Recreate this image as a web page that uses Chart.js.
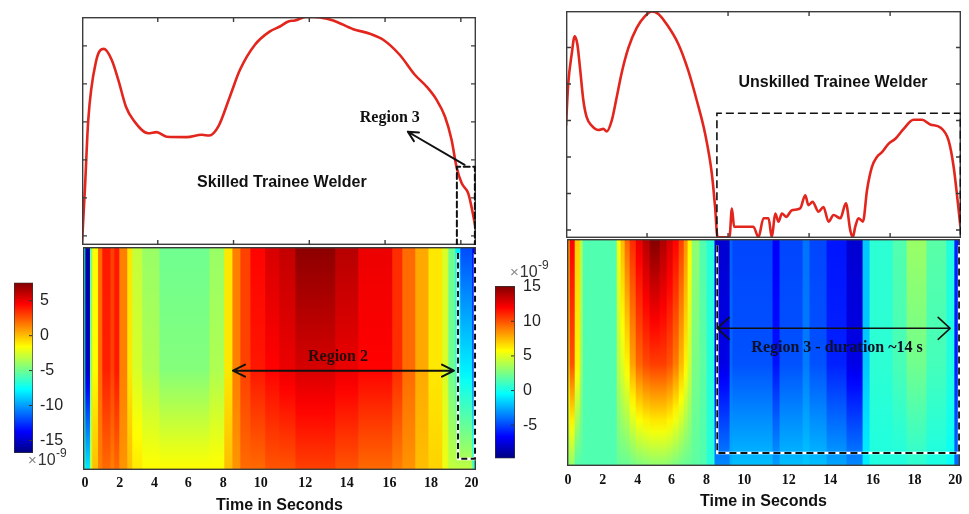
<!DOCTYPE html>
<html>
<head>
<meta charset="utf-8">
<script src="https://cdn.jsdelivr.net/npm/chart.js@4.4.1/dist/chart.umd.min.js"></script>
<style>
  html, body { margin: 0; padding: 0; background: #fff; overflow: hidden; width: 969px; height: 514px; }
  .pane { position: absolute; }
</style>
</head>
<body>
<div class="pane" style="left:82px;top:17px;width:394px;height:228px"><canvas id="skilledLine"></canvas></div>
<div class="pane" style="left:63px;top:247px;width:422px;height:267px"><canvas id="skilledMap"></canvas></div>
<div class="pane" style="left:14px;top:266px;width:60px;height:210px"><canvas id="skilledBar"></canvas></div>
<div class="pane" style="left:566px;top:11px;width:395px;height:227px"><canvas id="unskilledLine"></canvas></div>
<div class="pane" style="left:547px;top:239px;width:422px;height:275px"><canvas id="unskilledMap"></canvas></div>
<div class="pane" style="left:495px;top:260px;width:60px;height:216px"><canvas id="unskilledBar"></canvas></div>
<script>
// ---- signal envelopes (arbitrary units) ----
const skilledTime = [0, 0.16, 0.33, 0.74, 1.16, 1.57, 1.92, 2.32, 2.71, 3.5, 3.94, 4.47, 5.52, 6.32, 6.72, 7.2, 7.81, 8.34, 9.13, 9.92,
  10.45, 10.89, 11.24, 11.86, 12.56, 13.26, 14.32, 15.2, 15.9, 16.78, 17.57, 18.19, 18.72, 19.16, 19.51, 19.77, 20.04, 20.39, 20.56, 20.8];
const skilledSignal = [-0.19, 1.3, 3.05, 4.59, 4.92, 4.63, 4.1, 3.4, 3.05, 2.7, 2.73, 2.61, 2.6, 2.66, 2.64, 2.88, 3.67, 4.37, 5.03, 5.38,
  5.51, 5.64, 5.67, 5.77, 5.75, 5.67, 5.44, 5.32, 5.16, 4.76, 4.24, 3.93, 3.58, 3.14, 2.53, 1.82, 1.39, 1.12, 0.77, 0.16];

const unskilledTime = [0, 0.11, 0.28, 0.43, 0.56, 0.69, 0.86, 1.02, 1.27, 1.6, 1.84, 2.01, 2.26, 2.5, 2.75, 3.08, 3.49, 3.9, 4.23, 4.56,
  4.98, 5.55, 6.04, 6.46, 6.87, 7.2, 7.36, 7.48, 7.94, 8.07, 8.19, 8.3, 8.43, 9.25, 9.5, 9.75, 10.0, 10.16, 10.33, 10.49,
  10.66, 10.87, 11.15, 11.56, 11.81, 11.97, 12.17, 12.47, 12.71, 12.96, 13.21, 13.54, 13.82, 14.03, 14.16, 14.28, 14.44, 14.66, 14.86, 15.1,
  15.35, 15.6, 15.92, 16.26, 16.67, 17.16, 17.58, 17.98, 18.48, 18.89, 19.14, 19.33, 19.47];
const unskilledSignal = [2.86, 4.0, 4.81, 5.31, 5.09, 4.45, 3.54, 3.09, 2.86, 2.74, 2.77, 2.7, 3.0, 3.63, 4.31, 4.99, 5.54, 5.86, 5.99, 5.92,
  5.63, 5.09, 4.36, 3.54, 2.63, 1.54, 0.63, -0.2, -0.2, -0.2, 0.59, 0.09, 0.09, 0.09, -0.2, 0.32, 0.32, -0.2, 0.45, 0.23,
  0.45, 0.36, 0.54, 0.59, 0.95, 0.68, 0.77, 0.5, 0.63, 0.23, 0.41, 0.32, 0.73, 0, -0.2, 0.09, 0.32, 0.23, 1.09, 1.72,
  2.0, 2.13, 2.36, 2.5, 2.77, 3.02, 3.02, 2.89, 2.81, 2.45, 1.72, 0.82, 0.09];

const skilledLineTicksX = [4, 8, 12, 16, 20];
const unskilledLineTicksX = [4, 8, 12, 16];
const lineTicksY = [0, 1, 2, 3, 4, 5];

// ---- scalogram columns: edges in seconds, coefficient (x1e-9) at top, mid depth and bottom ----
const skilledEdges = [-0.10, 0.05, 0.29, 0.41, 0.71, 0.93, 1.35, 1.55, 1.81, 2.22, 2.48, 3.00, 3.88, 6.47, 7.24, 7.66, 8.07,
  8.59, 9.36, 10.09, 10.92, 12.98, 14.17, 15.93, 16.45, 17.12, 17.80, 18.52, 18.83, 19.19, 19.45, 20.07, 20.23];
const skilledTop = [-7, -16, -5, -1.5, 2, 4, 3, 4, 1.5, -1, -3, -4, -5, -4, -1, 1.5, 3, 4.5, 5.5, 6, 7.3, 6.3, 5, 3.5, 2, 0.5, -1, -2.5, -5, -8, -12, -14];
const skilledMid = [-7, -15, -4, -1.5, 2, 3.8, 3, 4, 1.5, -1, -2.5, -3.5, -4.5, -3.5, -1, 1.5, 3, 4, 4.5, 5, 5.5, 5, 4.5, 3.5, 2, 0.5, -1, -2.5, -5, -7, -8, -12];
const skilledBottom = [-6, -8, -3, 0, 1.5, 2, 1.5, 2, 1, 0, -1, -1.5, -1.5, -1.5, 0, 1, 2, 2, 2.5, 2.5, 3, 2.5, 2, 1.5, 1, 0, -0.5, -2, -3, -3, -3, -6];

const unskilledEdges = [-0.05, 0.12, 0.38, 0.64, 0.79, 2.55, 2.75, 2.96, 3.22, 3.53, 3.89, 4.25, 4.77, 5.13, 5.44, 5.75, 6.01, 6.21,
  6.42, 6.83, 7.19, 7.60, 8.38, 8.53, 10.60, 10.96, 12.15, 12.51, 13.39, 14.42, 15.25, 15.61, 16.80, 17.52, 18.55, 19.58, 19.99, 20.25];
const unskilledTop = [8, 12, 7, 4, 1.5, 5.5, 7.5, 9.5, 11, 12.5, 13.8, 15, 14, 13, 12, 10.5, 8.5, 6, 3, 1.5,
  0.5, -7.8, -4.3, -5.0, -6.8, -5.0, -3.9, -5.0, -6.2, -7.8, -1.8, 0.6, 1.5, 3.3, 1.7, 0.3, -6];
const unskilledMid = [7, 10, 6, 3.5, 1.5, 4, 5, 6, 8, 9.5, 10.2, 10.5, 10.5, 10, 9, 7.5, 6, 4.5, 2.5, 1.8,
  0.5, -7.3, -4.2, -4.7, -6.3, -4.7, -3.7, -4.7, -5.9, -7.3, -1.8, 0.6, 1.3, 2.3, 1.2, 0.3, -6];
const unskilledBottom = [3, 3, 1.5, 1.5, 1.5, 2, 2, 2, 2.3, 2.6, 2.8, 3, 3, 2.8, 2.5, 2.2, 2, 2, 1.8, 1.5,
  0.5, -3.3, -2.3, -2.0, -2.8, -2.0, -1.8, -2.0, -2.6, -3.3, -0.8, 0.3, 0.3, 0.6, 0.2, -0.3, -4];

const skilledRange = [-16.8, 7.6];
const unskilledRange = [-9.8, 15.1];
const skilledBarTicks = [5, 0, -5, -10, -15];
const unskilledBarTicks = [15, 10, 5, 0, -5];

const timeTickAt = [0, 1.8, 3.6, 5.35, 7.15, 9.1, 11.4, 13.55, 15.75, 17.9, 20];
const timeTickText = ['0', '2', '4', '6', '8', '10', '12', '14', '16', '18', '20'];

const MID_DEPTH = 0.55;

Chart.defaults.font.family = "'Liberation Sans', Arial, sans-serif";
Chart.defaults.animation = false;
Chart.defaults.plugins.legend.display = false;
Chart.defaults.plugins.tooltip.enabled = false;

function jet(f) {
  f = Math.min(1, Math.max(0, f));
  const ch = (a, b) => Math.round(255 * Math.min(1, Math.max(0, Math.min(4 * f + a, -4 * f + b))));
  return `rgb(${ch(-1.5, 4.5)},${ch(-0.5, 3.5)},${ch(0.5, 2.5)})`;
}

function framePlugin(xTicks, yTicks) {
  return {
    id: 'frame',
    afterDatasetsDraw(chart) {
      const { ctx, chartArea: a, scales } = chart;
      ctx.save();
      ctx.strokeStyle = '#3c3c3c';
      ctx.lineWidth = 1.4;
      ctx.strokeRect(a.left + 0.7, a.top + 0.7, a.width - 1.4, a.height - 1.4);
      ctx.beginPath();
      xTicks.forEach(t => {
        const x = scales.x.getPixelForValue(t);
        ctx.moveTo(x, a.top); ctx.lineTo(x, a.top + 5);
        ctx.moveTo(x, a.bottom); ctx.lineTo(x, a.bottom - 5);
      });
      yTicks.forEach(v => {
        const y = scales.y.getPixelForValue(v);
        ctx.moveTo(a.left, y); ctx.lineTo(a.left + 5, y);
        ctx.moveTo(a.right, y); ctx.lineTo(a.right - 5, y);
      });
      ctx.stroke();
      ctx.restore();
    }
  };
}

// text, dashed outlines and arrows placed in data coordinates
function notesPlugin(items, yId) {
  return {
    id: 'notes',
    afterDraw(chart) {
      const ctx = chart.ctx;
      const sx = chart.scales.x, sy = chart.scales[yId];
      const px = p => [sx.getPixelForValue(p[0]), sy.getPixelForValue(p[1])];
      ctx.save();
      items.forEach(it => {
        if (it.kind === 'text') {
          const [x, y] = px(it.at);
          ctx.font = it.font;
          ctx.fillStyle = it.color || '#111';
          ctx.textAlign = 'center';
          ctx.textBaseline = 'middle';
          ctx.fillText(it.text, x, y);
        } else if (it.kind === 'dash') {
          const pts = it.path.map(px);
          const trace = () => {
            ctx.beginPath();
            pts.forEach(([x, y], i) => (i ? ctx.lineTo(x, y) : ctx.moveTo(x, y)));
            ctx.stroke();
          };
          if (it.halo) {
            ctx.setLineDash([]);
            ctx.strokeStyle = '#fff';
            ctx.lineWidth = it.width + 0.6;
            trace();
          }
          ctx.setLineDash(it.dash);
          ctx.strokeStyle = '#111';
          ctx.lineWidth = it.width;
          trace();
          ctx.setLineDash([]);
        } else if (it.kind === 'arrow') {
          const [x1, y1] = px(it.from), [x2, y2] = px(it.to);
          ctx.strokeStyle = '#111';
          ctx.lineWidth = it.width;
          ctx.lineCap = 'round';
          ctx.lineJoin = 'round';
          const head = (tx, ty, fx, fy) => {
            const ang = Math.atan2(ty - fy, tx - fx);
            const c = Math.cos(ang), s = Math.sin(ang);
            ctx.moveTo(tx - it.len * c - it.half * s, ty - it.len * s + it.half * c);
            ctx.lineTo(tx, ty);
            ctx.lineTo(tx - it.len * c + it.half * s, ty - it.len * s - it.half * c);
          };
          ctx.beginPath();
          ctx.moveTo(x1, y1);
          ctx.lineTo(x2, y2);
          head(x2, y2, x1, y1);
          if (it.both) head(x1, y1, x2, y2);
          ctx.stroke();
        }
      });
      ctx.restore();
    }
  };
}

function lineChart(id, time, signal, xMax, yRange, xTicks, notes) {
  return new Chart(document.getElementById(id), {
    type: 'line',
    data: {
      datasets: [{
        data: time.map((t, i) => ({ x: t, y: signal[i] })),
        borderColor: '#e2251d',
        borderWidth: 2.6,
        pointRadius: 0,
        cubicInterpolationMode: 'monotone',
        fill: false
      }]
    },
    options: {
      responsive: true,
      maintainAspectRatio: false,
      layout: { padding: 0 },
      scales: {
        x: { type: 'linear', display: false, min: 0, max: xMax },
        y: { type: 'linear', display: false, min: yRange[0], max: yRange[1] }
      }
    },
    plugins: [framePlugin(xTicks, lineTicksY), notesPlugin(notes, 'y')]
  });
}

function columnFill(ctx, top, mid, bottom, range) {
  const area = ctx.chart.chartArea;
  if (!area || ctx.type !== 'data') return 'rgba(0,0,0,0)';
  const i = ctx.dataIndex;
  const g = ctx.chart.ctx.createLinearGradient(0, area.top, 0, area.bottom);
  for (let k = 0; k <= 20; k++) {
    const d = k / 20;
    const v = d < MID_DEPTH
      ? top[i] + (mid[i] - top[i]) * d / MID_DEPTH
      : mid[i] + (bottom[i] - mid[i]) * (d - MID_DEPTH) / (1 - MID_DEPTH);
    g.addColorStop(d, jet((v - range[0]) / (range[1] - range[0])));
  }
  return g;
}

function scalogramChart(id, edges, top, mid, bottom, range, xRange, axisH, tickPad, titlePad, notes) {
  const cols = top.map((v, i) => ({ x: [edges[i], edges[i + 1]], y: 'scalogram' }));
  return new Chart(document.getElementById(id), {
    type: 'bar',
    data: {
      labels: ['scalogram'],
      datasets: [{
        data: cols,
        backgroundColor: ctx => columnFill(ctx, top, mid, bottom, range),
        borderWidth: 0,
        barPercentage: 1,
        categoryPercentage: 1,
        inflateAmount: 0.6
      }]
    },
    options: {
      indexAxis: 'y',
      responsive: true,
      maintainAspectRatio: false,
      layout: { padding: { left: 20, right: 9, top: 0, bottom: 0 } },
      scales: {
        x: {
          type: 'linear',
          min: xRange[0],
          max: xRange[1],
          grid: { display: false, drawTicks: false },
          border: { display: false },
          afterBuildTicks: s => { s.ticks = timeTickAt.map(v => ({ value: v })); },
          afterFit: s => { s.height = axisH; },
          ticks: {
            autoSkip: false,
            maxRotation: 0,
            padding: tickPad,
            color: '#111',
            font: { family: "'Liberation Serif', 'Times New Roman', serif", weight: 'bold', size: 14 },
            callback: (v, i) => timeTickText[i]
          },
          title: {
            display: true,
            text: 'Time in Seconds',
            color: '#111',
            font: { weight: 'bold', size: 16, lineHeight: 1 },
            padding: { top: 0, bottom: titlePad }
          }
        },
        y: { type: 'category', display: false, offset: true },
        depth: { type: 'linear', axis: 'y', display: false, min: 0, max: 1, reverse: true }
      }
    },
    plugins: [framePlugin([], []), notesPlugin(notes, 'depth')]
  });
}

function exponentPlugin(edge, dx, dy) {
  return {
    id: 'exponent',
    afterDraw(chart) {
      const { ctx, chartArea: a, scales } = chart;
      ctx.save();
      // inward tick marks on the bar's right edge
      ctx.strokeStyle = '#333';
      ctx.lineWidth = 1;
      ctx.beginPath();
      scales.y.ticks.forEach(t => {
        const y = scales.y.getPixelForValue(t.value);
        ctx.moveTo(a.right - 1, y); ctx.lineTo(a.right - 4, y);
      });
      ctx.stroke();
      let x = a.left + dx;
      const y = (edge === 'bottom' ? a.bottom : a.top) + dy;
      ctx.textAlign = 'left';
      ctx.textBaseline = 'alphabetic';
      ctx.font = "15px 'Liberation Sans'";
      ctx.fillStyle = '#8a8a8a';
      ctx.fillText('×', x, y);
      x += ctx.measureText('×').width + 1;
      ctx.fillStyle = '#333';
      ctx.font = "16px 'Liberation Sans'";
      ctx.fillText('10', x, y);
      x += ctx.measureText('10').width + 0.5;
      ctx.font = "12px 'Liberation Sans'";
      ctx.fillText('-9', x, y - 8);
      ctx.restore();
    }
  };
}

function colorbarChart(id, range, ticks, pad, axisW, labelPad, expo) {
  return new Chart(document.getElementById(id), {
    type: 'bar',
    data: {
      labels: ['scale'],
      datasets: [{
        data: [[range[0], range[1]]],
        backgroundColor: ctx => {
          const a = ctx.chart.chartArea;
          if (!a) return 'rgba(0,0,0,0)';
          const g = ctx.chart.ctx.createLinearGradient(0, a.bottom, 0, a.top);
          for (let k = 0; k <= 40; k++) g.addColorStop(k / 40, jet(k / 40));
          return g;
        },
        borderColor: '#333',
        borderWidth: 1,
        borderSkipped: false,
        barPercentage: 1,
        categoryPercentage: 1
      }]
    },
    options: {
      responsive: true,
      maintainAspectRatio: false,
      layout: { padding: { left: 0, right: 0, top: pad[0], bottom: pad[1] } },
      scales: {
        x: { display: false },
        y: {
          position: 'right',
          min: range[0],
          max: range[1],
          grid: { display: false, drawTicks: false },
          border: { display: false },
          afterBuildTicks: s => { s.ticks = ticks.map(v => ({ value: v })); },
          afterFit: s => { s.width = axisW; },
          ticks: { color: '#222', padding: labelPad, font: { size: 16 }, callback: v => String(v) }
        }
      }
    },
    plugins: [exponentPlugin(expo[0], expo[1], expo[2])]
  });
}

const serifBold = "bold 16px 'Liberation Serif', 'Times New Roman', serif";
const sansBold = "bold 16px 'Liberation Sans', Arial, sans-serif";

lineChart('skilledLine', skilledTime, skilledSignal, 20.8, [-0.24, 5.76], skilledLineTicksX, [
  { kind: 'text', at: [10.55, 1.39], text: 'Skilled Trainee Welder', font: sansBold },
  { kind: 'text', at: [16.25, 3.1], text: 'Region 3', font: serifBold },
  { kind: 'arrow', from: [20.2, 1.87], to: [17.2, 2.74], width: 2, len: 10, half: 5 },
  { kind: 'dash', path: [[19.79, -0.5], [19.79, 1.82], [20.74, 1.82], [20.74, -0.5]], dash: [6, 3.5], width: 2 }
]);

scalogramChart('skilledMap', skilledEdges, skilledTop, skilledMid, skilledBottom, skilledRange, [-0.10, 20.23], 44, 5, 0, [
  { kind: 'dash', path: [[19.3, -0.02], [19.3, 0.995], [20.18, 0.995], [20.18, -0.02]], dash: [6, 3.5], width: 2, halo: true },
  { kind: 'text', at: [13.09, 0.493], text: 'Region 2', font: serifBold, color: '#2a0b0b' },
  { kind: 'arrow', from: [7.66, 0.56], to: [19.09, 0.56], both: true, width: 2, len: 12, half: 6 }
]);

colorbarChart('skilledBar', skilledRange, skilledBarTicks, [10, 23], 41, 7, ['bottom', 14, 12]);

lineChart('unskilledLine', unskilledTime, unskilledSignal, 19.5, [-0.22, 6.0], unskilledLineTicksX, [
  { kind: 'text', at: [13.18, 4.03], text: 'Unskilled Trainee Welder', font: sansBold },
  { kind: 'dash', path: [[7.45, -0.5], [7.45, 3.2], [19.47, 3.2], [19.47, -0.5]], dash: [8, 4], width: 1.6 }
]);

scalogramChart('unskilledMap', unskilledEdges, unskilledTop, unskilledMid, unskilledBottom, unskilledRange, [-0.05, 20.25], 48, 6, 4, [
  { kind: 'dash', path: [[7.71, -0.02], [7.71, 0.987], [20.2, 0.987], [20.2, -0.02]], dash: [7, 4], width: 1.8, halo: true },
  { kind: 'text', at: [13.9, 0.476], text: 'Region 3 - duration ~14 s', font: serifBold, color: '#0d1026' },
  { kind: 'arrow', from: [7.71, 0.383], to: [19.74, 0.383], both: true, width: 1.5, len: 12, half: 11 }
]);

colorbarChart('unskilledBar', unskilledRange, unskilledBarTicks, [26, 8], 40, 8, ['top', 15, -9]);
</script>
</body>
</html>
